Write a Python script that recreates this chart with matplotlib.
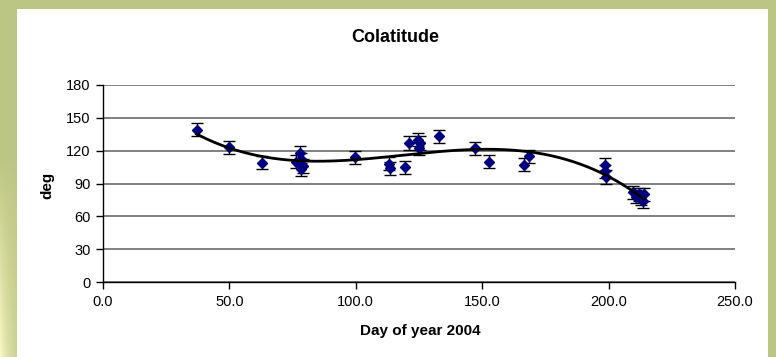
import numpy as np
import matplotlib
matplotlib.use("Agg")
import matplotlib.pyplot as plt
from matplotlib.patches import Rectangle

# Observed colatitude per day of year, 2004
day = [37, 50, 63, 76.5, 78, 78.5, 79, 78.5, 99.5, 113, 113.5, 119.5, 121,
       124.5, 125.5, 125, 133, 147, 152.5, 166.5, 168.5, 198.5, 198.5, 199,
       209.5, 211, 212, 213, 213.5, 214]
colat = [139, 123, 109, 110, 118, 112, 106, 103, 114, 108, 104, 105, 127,
         130, 127, 122, 133, 122, 110, 107, 115, 107, 101, 96,
         82, 78, 80, 76, 74, 80]
err = 6
x_ticks = [0, 50, 100, 150, 200, 250]
y_ticks = [0, 30, 60, 90, 120, 150, 180]

W, H = 776, 357
fig = plt.figure(figsize=(W / 100, H / 100), dpi=100)

# slide background with a pale glow on the lower left edge
bg = fig.add_axes([0, 0, 1, 1], zorder=-10)
bg.axis("off")
yy = np.linspace(0, 1, H)[:, None]
xx = np.linspace(0, 1, W)[None, :]
green = np.array([0.74, 0.78, 0.52])
yellow = np.array([0.99, 0.97, 0.78])
w = np.clip((yy - 0.45) / 0.55, 0, 1) * np.exp(-xx / 0.015)
img = green * (1 - w[..., None]) + yellow * w[..., None]
bg.imshow(img, aspect="auto", extent=[0, W, 0, H])
bg.add_patch(Rectangle((17, 0), 768 - 17, H - 9, facecolor="white",
                       edgecolor="none"))
bg.set_xlim(0, W)
bg.set_ylim(0, H)

plt.rcParams["font.family"] = ["Liberation Sans", "DejaVu Sans"]

ax = fig.add_axes([103 / W, 1 - 282 / H, (735 - 103) / W, (282 - 85) / H])
ax.set_facecolor("white")
ax.set_xlim(0, 250)
ax.set_ylim(0, 180)
ax.set_xticks(x_ticks)
ax.set_xticklabels([f"{v:.1f}" for v in x_ticks])
ax.set_yticks(y_ticks)
ax.yaxis.grid(True, color="#808080", lw=1.4)
ax.set_axisbelow(True)
for s in ("top", "right"):
    ax.spines[s].set_visible(False)
for s in ("left", "bottom"):
    ax.spines[s].set_color("black")
    ax.spines[s].set_linewidth(1)
ax.tick_params(direction="out", length=5, width=1, colors="black",
               labelsize=10.5)
ax.tick_params(axis="y", pad=4)
ax.tick_params(axis="x", pad=4)

ax.errorbar(day, colat, yerr=err, fmt="D", color="#000080", ms=5.5,
            ecolor="black", elinewidth=1, capsize=4, capthick=1, zorder=3)

# polynomial trend line through the observations
coef = np.polyfit(day, colat, 3)
xs = np.linspace(min(day), max(day), 300)
ax.plot(xs, np.polyval(coef, xs), color="black", lw=2, zorder=4)

fig.text(395 / W, 1 - 37 / H, "Colatitude", ha="center", va="center",
         fontsize=13, fontweight="bold")
fig.text(420 / W, 1 - 331 / H, "Day of year 2004", ha="center", va="center",
         fontsize=11, fontweight="bold")
fig.text(47 / W, 1 - 185 / H, "deg", ha="center", va="center", rotation=90,
         fontsize=11, fontweight="bold")

fig.savefig("out.png", dpi=100)
